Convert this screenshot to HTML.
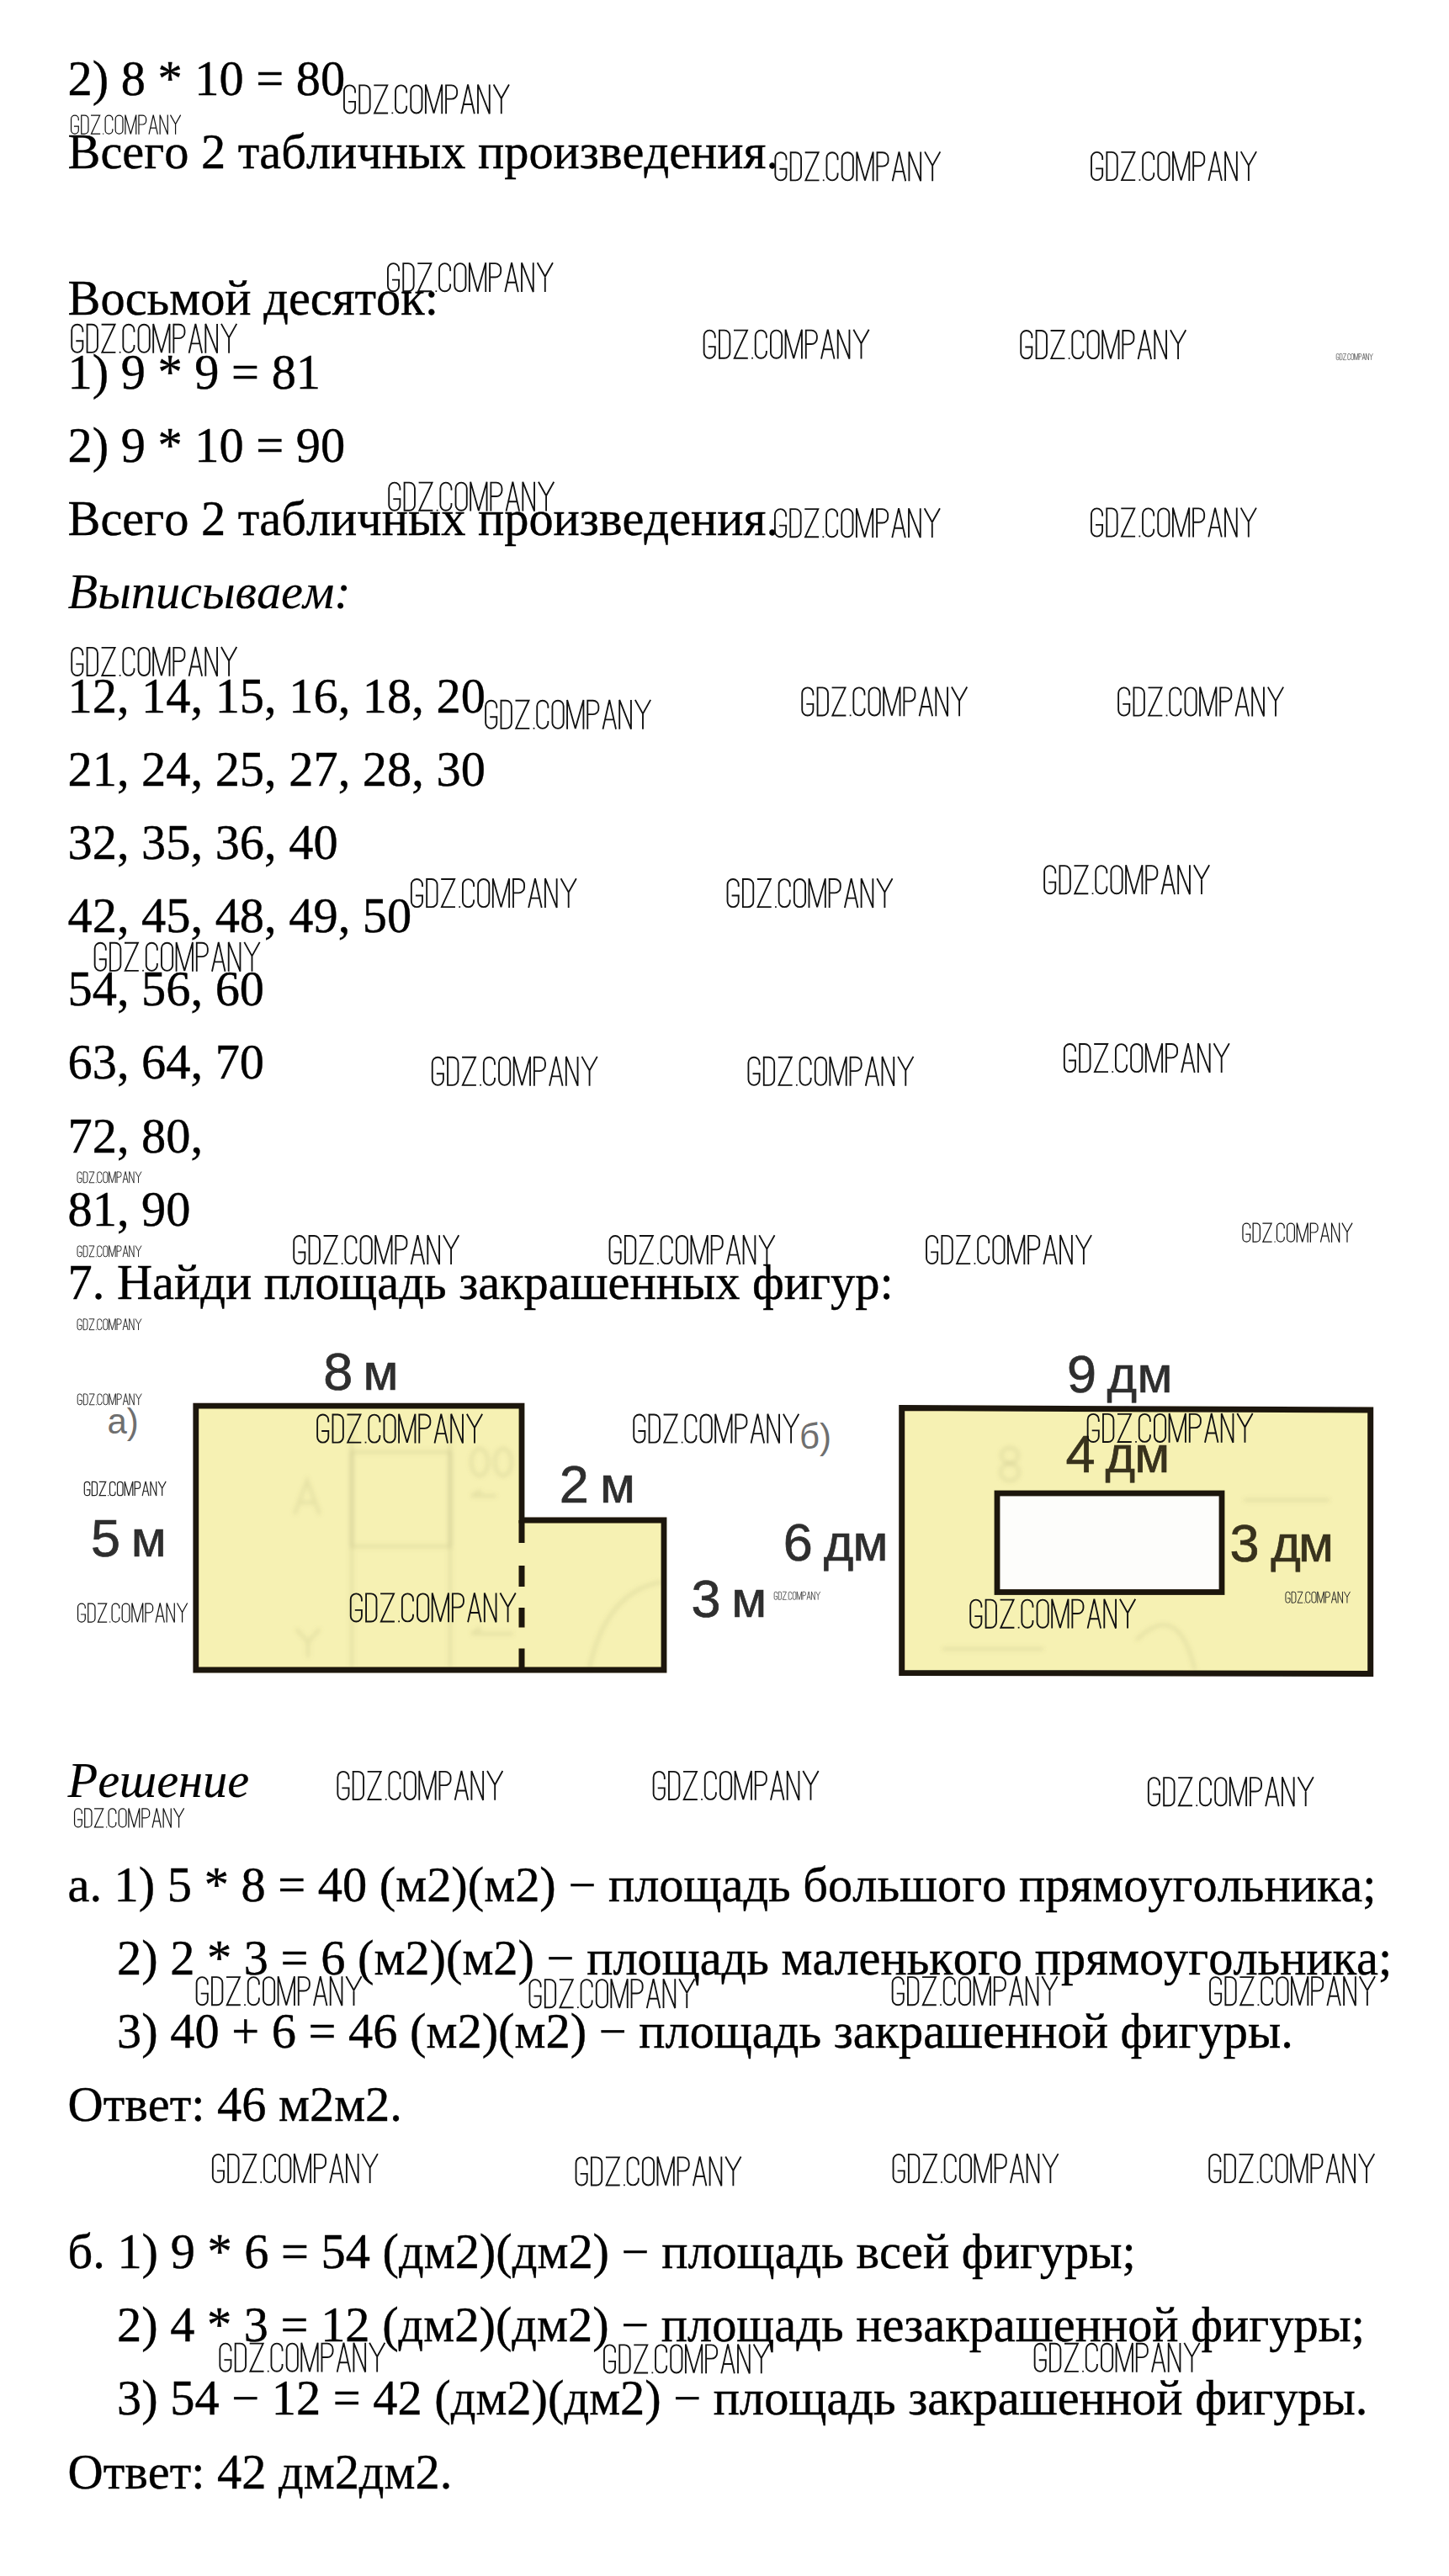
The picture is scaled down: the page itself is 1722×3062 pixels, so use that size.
<!DOCTYPE html><html><head><meta charset="utf-8"><style>html,body{margin:0;padding:0;background:#fff;}svg{display:block}</style></head><body>
<svg width="1722" height="3062" viewBox="0 0 1722 3062">
<defs><g id="w"><path d="M40.2 28.4V21.3A18.9 18.9 0 0 0 2.4 21.3V78.7A18.9 18.9 0 0 0 40.2 78.7V58.4H17M55.1 2.4H72A18.7 18.7 0 0 1 90.7 21.1V78.9A18.7 18.7 0 0 1 72 97.6H55.1ZM104 2.4H150L106 97.6H152.3M215.7 28.4V21.3A18.85 18.85 0 0 0 178 21.3V78.7A18.85 18.85 0 0 0 215.7 78.7V72.4M230.3 21.4A19 19 0 0 1 268.3 21.4V78.6A19 19 0 0 1 230.3 78.6ZM281 100V0L308.8 98L336.6 0V100M350.5 100V2.4H369A19.1 19.1 0 0 1 388.1 21.5V30.3A19.1 19.1 0 0 1 369 49.4H350.5M402.8 100L425.2 0L447.5 100M410.1 67.4H440.2M459.5 100V0L499 100V0M513 0L539.3 47.4L565.7 0M539.3 47.4V100" fill="none" stroke="#111" stroke-width="5.3" stroke-miterlimit="3"/><rect x="164.8" y="94.8" width="5" height="5" fill="#111"/></g><g id="ws"><path d="M40.2 28.4V21.3A18.9 18.9 0 0 0 2.4 21.3V78.7A18.9 18.9 0 0 0 40.2 78.7V58.4H17M55.1 2.4H72A18.7 18.7 0 0 1 90.7 21.1V78.9A18.7 18.7 0 0 1 72 97.6H55.1ZM104 2.4H150L106 97.6H152.3M215.7 28.4V21.3A18.85 18.85 0 0 0 178 21.3V78.7A18.85 18.85 0 0 0 215.7 78.7V72.4M230.3 21.4A19 19 0 0 1 268.3 21.4V78.6A19 19 0 0 1 230.3 78.6ZM281 100V0L308.8 98L336.6 0V100M350.5 100V2.4H369A19.1 19.1 0 0 1 388.1 21.5V30.3A19.1 19.1 0 0 1 369 49.4H350.5M402.8 100L425.2 0L447.5 100M410.1 67.4H440.2M459.5 100V0L499 100V0M513 0L539.3 47.4L565.7 0M539.3 47.4V100" fill="none" stroke="#222" stroke-width="7" stroke-miterlimit="3"/><rect x="164" y="94" width="6.5" height="6.5" fill="#222"/></g></defs>
<rect width="1722" height="3062" fill="#fff"/>
<defs><filter id="bl" filterUnits="userSpaceOnUse" x="0" y="1550" width="1722" height="500"><feGaussianBlur stdDeviation="2.5"/></filter><filter id="bl2" filterUnits="userSpaceOnUse" x="0" y="1550" width="1722" height="500"><feGaussianBlur stdDeviation="0.7"/></filter></defs>
<path d="M232.8 1671.2H620V1807H789V1985H232.8Z" fill="#f6f1b3"/>
<path d="M1071.7 1673.5L1628.7 1676V1989.5L1071.7 1988.4Z" fill="#f6f1b3"/>
<g fill="none" stroke="#8a8458" stroke-opacity="0.14" stroke-width="4.5" filter="url(#bl)"><path d="M418 1726H535V1838H418Z"/><path d="M418 1680V1982M535 1680V1982"/><path d="M350 1800L365 1760L380 1800M356 1786H374"/><path d="M352 1936L366 1952L380 1936M366 1952V1970"/><ellipse cx="570" cy="1738" rx="10" ry="16"/><ellipse cx="598" cy="1738" rx="10" ry="16"/><path d="M560 1778H590M560 1778L572 1772"/><path d="M560 1942H610M560 1942L572 1935"/><path d="M700 1985Q720 1890 789 1880"/><ellipse cx="1200" cy="1730" rx="10" ry="9"/><ellipse cx="1200" cy="1750" rx="11" ry="10"/><path d="M1478 1783H1580M1120 1960H1240M1350 1950Q1400 1900 1420 1985"/></g>
<path d="M232.8 1671.2H620V1807H789V1985H232.8Z" fill="none" stroke="#1e170c" stroke-width="6.8" filter="url(#bl2)"/>
<path d="M620 1807V1834M620 1861V1886M620 1911V1934.5M620 1959.5V1985" stroke="#1e170c" stroke-width="7" filter="url(#bl2)"/>
<path d="M1071.7 1673.5L1628.7 1676V1989.5L1071.7 1988.4Z" fill="none" stroke="#1e170c" stroke-width="7" filter="url(#bl2)"/>
<rect x="1185" y="1775" width="267" height="117.5" fill="#fdfdfb" stroke="#1e170c" stroke-width="6.8" filter="url(#bl2)"/>
<g font-family="Liberation Sans, sans-serif" stroke-width="0.7" filter="url(#bl2)">
<text font-size="63" fill="#2f2f2f" stroke="#2f2f2f" x="384.3" y="1652.0">8</text>
<text font-size="61" fill="#2f2f2f" stroke="#2f2f2f" x="431.5" y="1652.0">м</text>
<text font-size="63" fill="#2f2f2f" stroke="#2f2f2f" x="664.8" y="1785.5">2</text>
<text font-size="61" fill="#2f2f2f" stroke="#2f2f2f" x="713.1" y="1785.5">м</text>
<text font-size="63" fill="#2f2f2f" stroke="#2f2f2f" x="108.0" y="1850.0">5</text>
<text font-size="61" fill="#2f2f2f" stroke="#2f2f2f" x="155.8" y="1850.0">м</text>
<text font-size="63" fill="#2f2f2f" stroke="#2f2f2f" x="821.6" y="1921.5">3</text>
<text font-size="61" fill="#2f2f2f" stroke="#2f2f2f" x="869.3" y="1921.5">м</text>
<text font-size="63" fill="#2f2f2f" stroke="#2f2f2f" x="1268.0" y="1655.0">9</text>
<text font-size="61" fill="#2f2f2f" stroke="#2f2f2f" x="1315.4" y="1655.0">д</text>
<text font-size="61" fill="#2f2f2f" stroke="#2f2f2f" x="1351.6" y="1655.0">м</text>
<text font-size="63" fill="#38321c" stroke="#38321c" x="1266.6" y="1749.5">4</text>
<text font-size="61" fill="#38321c" stroke="#38321c" x="1313.4" y="1749.5">д</text>
<text font-size="61" fill="#38321c" stroke="#38321c" x="1348.3" y="1749.5">м</text>
<text font-size="63" fill="#2f2f2f" stroke="#2f2f2f" x="930.8" y="1855.0">6</text>
<text font-size="61" fill="#2f2f2f" stroke="#2f2f2f" x="978.7" y="1855.0">д</text>
<text font-size="61" fill="#2f2f2f" stroke="#2f2f2f" x="1013.6" y="1855.0">м</text>
<text font-size="63" fill="#38321c" stroke="#38321c" x="1461.6" y="1855.5">3</text>
<text font-size="61" fill="#38321c" stroke="#38321c" x="1510.2" y="1855.5">д</text>
<text font-size="61" fill="#38321c" stroke="#38321c" x="1543.1" y="1855.5">м</text>
</g>
<text font-family="Liberation Sans, sans-serif" font-size="42" fill="#6f6f6f" x="127.5" y="1703.5">а)</text>
<text font-family="Liberation Sans, sans-serif" font-size="42" fill="#6f6f6f" x="950" y="1722">б)</text>
<g font-family="Liberation Serif, serif" font-size="58.4" fill="#000" stroke="#000" stroke-width="0.4" style="font-kerning:none;font-feature-settings:&quot;kern&quot; 0">
<text x="80.5" y="113" xml:space="preserve">2) 8 * 10 = 80</text>
<text x="80.5" y="200.15" xml:space="preserve">Всего 2 табличных произведения.</text>
<text x="80.5" y="374.45" xml:space="preserve">Восьмой десяток:</text>
<text x="80.5" y="461.6" xml:space="preserve">1) 9 * 9 = 81</text>
<text x="80.5" y="548.75" xml:space="preserve">2) 9 * 10 = 90</text>
<text x="80.5" y="635.9" xml:space="preserve">Всего 2 табличных произведения.</text>
<text x="80.5" y="723.05" font-style="italic" stroke-width="0.15" xml:space="preserve">Выписываем:</text>
<text x="80.5" y="846.6" xml:space="preserve">12, 14, 15, 16, 18, 20</text>
<text x="80.5" y="933.75" xml:space="preserve">21, 24, 25, 27, 28, 30</text>
<text x="80.5" y="1020.9" xml:space="preserve">32, 35, 36, 40</text>
<text x="80.5" y="1108.05" xml:space="preserve">42, 45, 48, 49, 50</text>
<text x="80.5" y="1195.2" xml:space="preserve">54, 56, 60</text>
<text x="80.5" y="1282.35" xml:space="preserve">63, 64, 70</text>
<text x="80.5" y="1369.5" xml:space="preserve">72, 80,</text>
<text x="80.5" y="1456.65" xml:space="preserve">81, 90</text>
<text x="80.5" y="1543.8" xml:space="preserve">7. Найди площадь закрашенных фигур:</text>
<text x="80.5" y="2135.9" font-style="italic" stroke-width="0.15" xml:space="preserve">Решение</text>
<text x="80.5" y="2260.1" xml:space="preserve">а. 1) 5 * 8 = 40 (м2)(м2) − площадь большого прямоугольника;</text>
<text x="139" y="2347.1" xml:space="preserve">2) 2 * 3 = 6 (м2)(м2) − площадь маленького прямоугольника;</text>
<text x="139" y="2434" xml:space="preserve">3) 40 + 6 = 46 (м2)(м2) − площадь закрашенной фигуры.</text>
<text x="80.5" y="2521" xml:space="preserve">Ответ: 46 м2м2.</text>
<text x="80.5" y="2695.6" xml:space="preserve">б. 1) 9 * 6 = 54 (дм2)(дм2) − площадь всей фигуры;</text>
<text x="139" y="2782.6" xml:space="preserve">2) 4 * 3 = 12 (дм2)(дм2) − площадь незакрашенной фигуры;</text>
<text x="139" y="2869.5" xml:space="preserve">3) 54 − 12 = 42 (дм2)(дм2) − площадь закрашенной фигуры.</text>
<text x="80.5" y="2957.5" xml:space="preserve">Ответ: 42 дм2дм2.</text>
</g>
<use href="#w" transform="translate(408.1 100.5) scale(0.3480)"/>
<use href="#w" transform="translate(84 136.6) scale(0.2310)"/>
<use href="#w" transform="translate(920.5 180.4) scale(0.3480)"/>
<use href="#w" transform="translate(1296.2 180.1) scale(0.3480)"/>
<use href="#w" transform="translate(460.1 312.3) scale(0.3480)"/>
<use href="#w" transform="translate(84.4 384.9) scale(0.3480)"/>
<use href="#w" transform="translate(835.8 391.8) scale(0.3480)"/>
<use href="#w" transform="translate(1212.4 392.2) scale(0.3480)"/>
<use href="#ws" transform="translate(1588 420.2) scale(0.0770)"/>
<use href="#w" transform="translate(461.4 572.8) scale(0.3480)"/>
<use href="#w" transform="translate(920.1 604.3) scale(0.3480)"/>
<use href="#w" transform="translate(1296.1 603.6) scale(0.3480)"/>
<use href="#w" transform="translate(84.4 769) scale(0.3480)"/>
<use href="#w" transform="translate(576.3 831.9) scale(0.3480)"/>
<use href="#w" transform="translate(952.4 816.5) scale(0.3480)"/>
<use href="#w" transform="translate(1328.3 816.6) scale(0.3480)"/>
<use href="#w" transform="translate(488 1044.2) scale(0.3480)"/>
<use href="#w" transform="translate(863.7 1044.2) scale(0.3480)"/>
<use href="#w" transform="translate(1240.3 1028.3) scale(0.3480)"/>
<use href="#w" transform="translate(111.8 1119.9) scale(0.3480)"/>
<use href="#w" transform="translate(512.9 1255.9) scale(0.3480)"/>
<use href="#w" transform="translate(888.6 1255.9) scale(0.3480)"/>
<use href="#w" transform="translate(1264 1240.2) scale(0.3480)"/>
<use href="#ws" transform="translate(91.7 1392.6) scale(0.1350)"/>
<use href="#ws" transform="translate(91.7 1480.6) scale(0.1350)"/>
<use href="#w" transform="translate(348.4 1468.2) scale(0.3480)"/>
<use href="#w" transform="translate(723.7 1468.2) scale(0.3480)"/>
<use href="#w" transform="translate(1100.2 1468.1) scale(0.3480)"/>
<use href="#w" transform="translate(1476.4 1453.6) scale(0.2310)"/>
<use href="#ws" transform="translate(91.7 1567.5) scale(0.1350)"/>
<use href="#ws" transform="translate(91.9 1656.6) scale(0.1350)"/>
<use href="#w" transform="translate(376.3 1680.7) scale(0.3480)"/>
<use href="#w" transform="translate(752.4 1680.7) scale(0.3480)"/>
<use href="#w" transform="translate(1291.8 1680) scale(0.3480)"/>
<use href="#ws" transform="translate(99.9 1760.9) scale(0.1720)"/>
<use href="#w" transform="translate(92 1905.5) scale(0.2310)"/>
<use href="#w" transform="translate(415.9 1893.5) scale(0.3480)"/>
<use href="#ws" transform="translate(919.9 1891.9) scale(0.0970)"/>
<use href="#w" transform="translate(1152.4 1900.8) scale(0.3480)"/>
<use href="#ws" transform="translate(1527.6 1891.9) scale(0.1360)"/>
<use href="#w" transform="translate(400.5 2105) scale(0.3480)"/>
<use href="#w" transform="translate(775.8 2105) scale(0.3480)"/>
<use href="#w" transform="translate(1364 2112.3) scale(0.3480)"/>
<use href="#w" transform="translate(88 2149.4) scale(0.2310)"/>
<use href="#w" transform="translate(232.8 2349.3) scale(0.3480)"/>
<use href="#w" transform="translate(628.6 2352.3) scale(0.3480)"/>
<use href="#w" transform="translate(1059.8 2349.3) scale(0.3480)"/>
<use href="#w" transform="translate(1437.2 2349.3) scale(0.3480)"/>
<use href="#w" transform="translate(252 2560.1) scale(0.3480)"/>
<use href="#w" transform="translate(683.7 2563.5) scale(0.3480)"/>
<use href="#w" transform="translate(1060.7 2560.1) scale(0.3480)"/>
<use href="#w" transform="translate(1436.4 2560.1) scale(0.3480)"/>
<use href="#w" transform="translate(260.5 2784.8) scale(0.3480)"/>
<use href="#w" transform="translate(717.1 2786.5) scale(0.3480)"/>
<use href="#w" transform="translate(1228.8 2784.9) scale(0.3480)"/>
</svg></body></html>
